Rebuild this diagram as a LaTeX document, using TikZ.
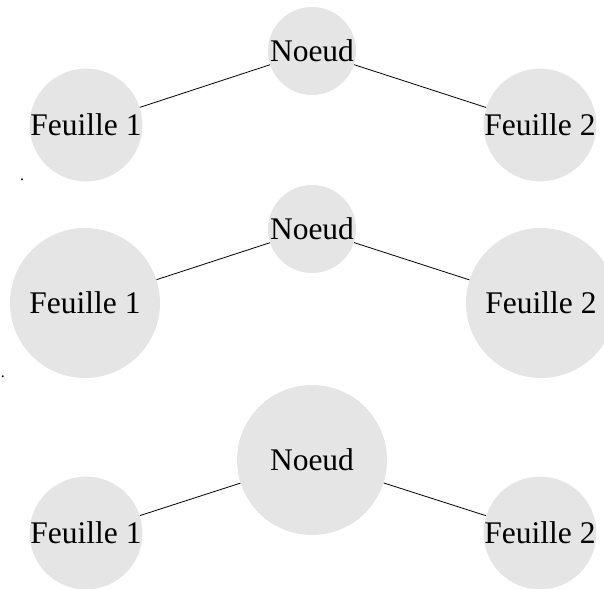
\documentclass[tikz,border=0pt]{standalone}
\usepackage{fontspec}
\setmainfont{Liberation Serif}
\begin{document}
\begin{tikzpicture}[x=1pt,y=-1pt,
  nd/.style={circle,fill=gray!20,inner sep=0pt,font=\fontsize{31.5}{33}\selectfont},
  small/.style={nd,minimum size=88pt},
  mid/.style={nd,minimum size=110pt},
  big/.style={nd,minimum size=150pt},
  lnk/.style={draw=black,line width=0.8pt},
  dot/.style={inner sep=0pt,font=\fontsize{16}{16}\selectfont}]
\useasboundingbox (0,0) rectangle (604,588);
% tree 1
\node[small] (n1) at (312,51) {Noeud};
\node[mid] (a1) at (86,125) {Feuille 1};
\node[mid] (b1) at (540,125) {Feuille 2};
\draw[lnk] (a1) -- (n1);
\draw[lnk] (n1) -- (b1);
% tree 2
\node[small] (n2) at (312,229) {Noeud};
\node[big] (a2) at (85,303) {Feuille 1};
\node[big] (b2) at (541,303) {Feuille 2};
\draw[lnk] (a2) -- (n2);
\draw[lnk] (n2) -- (b2);
% tree 3
\node[big] (n3) at (312,460) {Noeud};
\node[mid] (a3) at (86,533) {Feuille 1};
\node[mid] (b3) at (540,533) {Feuille 2};
\draw[lnk] (a3) -- (n3);
\draw[lnk] (n3) -- (b3);
% dots
\node[dot] (d1) at (22,180) {.};
\node[dot] (d2) at (3,377) {.};
\end{tikzpicture}
\end{document}
